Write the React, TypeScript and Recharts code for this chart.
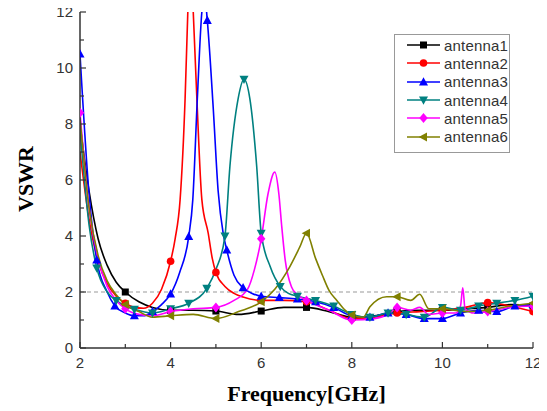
import React from 'react';
import { LineChart, Line, XAxis, YAxis, ReferenceLine, Legend, Label } from 'recharts';

// ---------- data (frequency in GHz, VSWR) ----------
const antenna1Freq = [2.0, 2.2, 2.4, 2.6, 2.8, 3.0, 3.3, 3.6, 4.0, 4.5, 5.0, 5.5, 6.0, 6.5, 7.0, 7.5, 8.0, 8.5, 9.0, 9.5, 10.0, 10.5, 11.0, 11.5, 12.0];
const antenna1Vswr = [8.0, 5.6, 3.9, 2.95, 2.35, 2.0, 1.65, 1.45, 1.35, 1.35, 1.32, 1.2, 1.32, 1.45, 1.45, 1.3, 1.1, 1.15, 1.3, 1.35, 1.35, 1.4, 1.45, 1.55, 1.5];
const antenna1Markers = [3, 4, 5, 6, 7, 8, 9, 10, 11, 12];

const antenna2Freq = [2.0, 2.2, 2.4, 2.6, 2.8, 3.0, 3.2, 3.4, 3.6, 3.8, 4.0, 4.1, 4.21, 4.32, 4.38, 4.44, 4.5, 4.58, 4.69, 4.83, 4.92, 5.0, 5.2, 5.4, 5.6, 6.0, 6.5, 7.0, 7.5, 8.0, 8.5, 9.0, 9.5, 10.0, 10.5, 11.0, 11.5, 12.0];
const antenna2Vswr = [7.0, 4.6, 3.1, 2.3, 1.85, 1.6, 1.45, 1.42, 1.6, 2.1, 3.1, 3.9, 5.3, 8.9, 12.0, 14.5, 12.0, 8.9, 5.3, 4.1, 3.2, 2.7, 2.2, 1.95, 1.82, 1.7, 1.7, 1.65, 1.35, 1.05, 1.1, 1.25, 1.3, 1.35, 1.45, 1.62, 1.5, 1.3];
const antenna2Markers = [3, 4, 5, 6, 7, 8, 9, 10, 11, 12];

const antenna3Freq = [2.0, 2.2, 2.37, 2.6, 2.77, 3.0, 3.2, 3.4, 3.6, 3.8, 4.0, 4.2, 4.4, 4.49, 4.59, 4.69, 4.75, 4.81, 4.94, 5.05, 5.16, 5.24, 5.4, 5.6, 5.8, 6.0, 6.4, 6.8, 7.2, 7.6, 8.0, 8.4, 8.8, 9.2, 9.6, 10.0, 10.4, 10.8, 11.2, 11.6, 12.0];
const antenna3Vswr = [10.5, 5.5, 3.14, 2.0, 1.5, 1.25, 1.15, 1.15, 1.3, 1.55, 1.93, 2.7, 3.98, 5.3, 8.9, 12.0, 12.6, 11.7, 8.6, 5.6, 4.1, 3.5, 2.6, 2.15, 1.95, 1.85, 1.8, 1.75, 1.65, 1.45, 1.15, 1.1, 1.25, 1.2, 1.05, 1.05, 1.25, 1.35, 1.3, 1.5, 1.55];
const antenna3Markers = [2.0, 2.37, 2.77, 3.2, 3.6, 4.0, 4.4, 4.81, 5.24, 5.6, 6.0, 6.4, 6.8, 7.2, 7.6, 8.0, 8.4, 8.8, 9.2, 9.6, 10.0, 10.4, 10.8, 11.2, 11.6, 12.0];

const antenna4Freq = [2.0, 2.2, 2.37, 2.6, 2.8, 3.0, 3.2, 3.6, 4.0, 4.4, 4.8, 5.0, 5.2, 5.31, 5.49, 5.62, 5.75, 5.9, 6.0, 6.2, 6.42, 6.6, 6.8, 7.2, 7.6, 8.0, 8.4, 8.8, 9.2, 9.6, 10.0, 10.4, 10.8, 11.2, 11.6, 12.0];
const antenna4Vswr = [7.8, 4.4, 2.86, 2.0, 1.7, 1.5, 1.38, 1.25, 1.4, 1.6, 2.13, 2.8, 4.0, 6.5, 8.9, 9.6, 8.9, 6.5, 4.1, 2.9, 2.2, 1.95, 1.85, 1.7, 1.5, 1.2, 1.1, 1.25, 1.2, 1.1, 1.45, 1.35, 1.5, 1.6, 1.7, 1.85];
const antenna4Markers = [2.37, 2.8, 3.2, 3.6, 4.0, 4.4, 4.8, 5.2, 5.62, 6.0, 6.42, 6.8, 7.2, 7.6, 8.0, 8.4, 8.8, 9.2, 9.6, 10.0, 10.4, 10.8, 11.2, 11.6, 12.0];

const antenna5Freq = [2.0, 2.2, 2.4, 2.6, 2.8, 3.0, 3.3, 3.6, 4.0, 4.5, 5.0, 5.4, 5.7, 5.85, 6.0, 6.15, 6.3, 6.39, 6.45, 6.53, 6.67, 6.8, 7.0, 7.5, 8.0, 8.5, 8.8, 9.0, 9.3, 9.5, 9.7, 10.0, 10.3, 10.4, 10.45, 10.5, 10.7, 11.0, 11.5, 12.0];
const antenna5Vswr = [8.4, 5.0, 3.2, 2.2, 1.7, 1.4, 1.2, 1.15, 1.3, 1.4, 1.45, 1.7, 2.1, 2.8, 3.9, 5.5, 6.28, 5.5, 4.4, 3.14, 2.18, 1.9, 1.7, 1.35, 1.0, 1.05, 1.2, 1.45, 1.35, 1.45, 1.2, 1.25, 1.25, 1.5, 2.15, 1.4, 1.25, 1.3, 1.45, 1.5];
const antenna5Markers = [2, 3, 4, 5, 6, 7, 8, 9, 10, 11, 12];

const antenna6Freq = [2.0, 2.2, 2.4, 2.6, 2.8, 3.0, 3.3, 3.6, 4.0, 4.5, 5.0, 5.5, 6.0, 6.3, 6.63, 6.85, 7.0, 7.2, 7.35, 7.5, 7.67, 7.85, 8.0, 8.25, 8.4, 8.77, 9.0, 9.3, 9.5, 9.7, 10.0, 10.5, 11.0, 11.5, 12.0];
const antenna6Vswr = [8.2, 5.0, 3.3, 2.4, 1.9, 1.55, 1.3, 1.1, 1.15, 1.2, 1.05, 1.3, 1.65, 2.1, 2.9, 3.6, 4.1, 3.2, 2.6, 2.05, 1.7, 1.35, 1.18, 1.1, 1.47, 1.83, 1.83, 1.7, 1.92, 1.4, 1.4, 1.3, 1.35, 1.5, 1.6];
const antenna6Markers = [3, 4, 5, 6, 7, 8, 9, 10, 11, 12];

const seriesNames = ['antenna1', 'antenna2', 'antenna3', 'antenna4', 'antenna5', 'antenna6'];
const xTicks = [2, 3, 4, 5, 6, 7, 8, 9, 10, 11, 12];
const yTicks = [0, 1, 2, 3, 4, 5, 6, 7, 8, 9, 10, 11, 12];

const toPoints = (f: number[], v: number[]) => f.map((x, i) => ({ f: x, v: v[i] }));

const SERIES = [
  { name: seriesNames[0], color: '#000000', shape: 'square', data: toPoints(antenna1Freq, antenna1Vswr), markers: antenna1Markers },
  { name: seriesNames[1], color: '#ff0000', shape: 'circle', data: toPoints(antenna2Freq, antenna2Vswr), markers: antenna2Markers },
  { name: seriesNames[2], color: '#0000ff', shape: 'up', data: toPoints(antenna3Freq, antenna3Vswr), markers: antenna3Markers },
  { name: seriesNames[3], color: '#008080', shape: 'down', data: toPoints(antenna4Freq, antenna4Vswr), markers: antenna4Markers },
  { name: seriesNames[4], color: '#ff00ff', shape: 'diamond', data: toPoints(antenna5Freq, antenna5Vswr), markers: antenna5Markers },
  { name: seriesNames[5], color: '#808000', shape: 'left', data: toPoints(antenna6Freq, antenna6Vswr), markers: antenna6Markers },
];

function Marker({ shape, cx, cy, color }: { shape: string; cx: number; cy: number; color: string }) {
  switch (shape) {
    case 'square':
      return <rect x={cx - 3.5} y={cy - 3.5} width={7} height={7} fill={color} />;
    case 'circle':
      return <circle cx={cx} cy={cy} r={3.8} fill={color} />;
    case 'up':
      return <polygon points={`${cx},${cy - 4.8} ${cx - 4.5},${cy + 3.5} ${cx + 4.5},${cy + 3.5}`} fill={color} />;
    case 'down':
      return <polygon points={`${cx},${cy + 4.8} ${cx - 4.5},${cy - 3.5} ${cx + 4.5},${cy - 3.5}`} fill={color} />;
    case 'diamond':
      return <polygon points={`${cx},${cy - 5} ${cx + 4.2},${cy} ${cx},${cy + 5} ${cx - 4.2},${cy}`} fill={color} />;
    default:
      return <polygon points={`${cx - 4.8},${cy} ${cx + 3.5},${cy - 4.5} ${cx + 3.5},${cy + 4.5}`} fill={color} />;
  }
}

const tickFont = { fontFamily: 'Liberation Sans, Arial, sans-serif', fontSize: 15, fill: '#333' };

const XTick = (props: any) => {
  const { x, y, payload } = props;
  const major = payload.value % 2 === 0;
  return (
    <g>
      <line x1={x} x2={x} y1={y} y2={y - (major ? 6 : 4)} stroke="#333" strokeWidth={1.2} />
      {major && (
        <text x={x} y={y + 20} textAnchor="middle" {...tickFont}>
          {payload.value}
        </text>
      )}
    </g>
  );
};

const YTick = (props: any) => {
  const { x, y, payload } = props;
  const major = payload.value % 2 === 0;
  return (
    <g>
      <line x1={x} x2={x + (major ? 6 : 4)} y1={y} y2={y} stroke="#333" strokeWidth={1.2} />
      {major && (
        <text x={x - 7} y={y + 5} textAnchor="end" {...tickFont}>
          {payload.value}
        </text>
      )}
    </g>
  );
};

const LegendContent = () => (
  <div
    style={{
      border: '1px solid #999',
      background: '#fff',
      width: 116,
      height: 119,
      boxSizing: 'border-box',
      paddingTop: 1,
    }}
  >
    {SERIES.map((s) => (
      <div key={s.name} style={{ display: 'flex', alignItems: 'center', height: 18.3 }}>
        <svg width={48} height={14} style={{ display: 'block' }}>
          <line x1={12} x2={45} y1={7} y2={7} stroke={s.color} strokeWidth={1.5} />
          <Marker shape={s.shape} cx={28.5} cy={7} color={s.color} />
        </svg>
        <span
          style={{
            fontFamily: 'Liberation Sans, Arial, sans-serif',
            fontSize: 15,
            letterSpacing: 0.2,
            color: '#333',
            marginLeft: 1,
            lineHeight: '15px',
            whiteSpace: 'nowrap',
          }}
        >
          {s.name}
        </span>
      </div>
    ))}
  </div>
);

const axisTitle = { fontFamily: 'Liberation Serif, Times New Roman, serif', fontWeight: 'bold' as const, fontSize: 22, fill: '#000' };

export default function App() {
  return (
    <div style={{ margin: '-8px 0 0 -8px', width: 547, height: 411 }}>
      <LineChart width={547} height={411} margin={{ top: 12, right: 14, bottom: 0, left: 20 }}>
        <XAxis
          xAxisId="top"
          orientation="top"
          type="number"
          domain={[2, 12]}
          height={0}
          tick={false}
          tickLine={false}
          axisLine={{ stroke: '#777', strokeWidth: 1.5 }}
        />
        <YAxis
          yAxisId="right"
          orientation="right"
          type="number"
          domain={[0, 12]}
          width={0}
          tick={false}
          tickLine={false}
          axisLine={{ stroke: '#777', strokeWidth: 1.5 }}
        />
        <XAxis
          dataKey="f"
          type="number"
          domain={[2, 12]}
          ticks={xTicks}
          interval={0}
          allowDataOverflow
          height={63}
          tickSize={0}
          tickMargin={0}
          tickLine={false}
          tick={(p: any) => <XTick {...p} />}
          axisLine={{ stroke: '#333', strokeWidth: 1.5 }}
        >
          <Label
            content={(p: any) => {
              const vb = p.viewBox || {};
              return (
                <text x={vb.x + vb.width / 2} y={vb.y + 53} textAnchor="middle" {...axisTitle}>
                  Frequency[GHz]
                </text>
              );
            }}
          />
        </XAxis>
        <YAxis
          dataKey="v"
          type="number"
          domain={[0, 12]}
          ticks={yTicks}
          interval={0}
          allowDataOverflow
          width={60}
          tickSize={0}
          tickMargin={0}
          tickLine={false}
          tick={(p: any) => <YTick {...p} />}
          axisLine={{ stroke: '#333', strokeWidth: 1.5 }}
        >
          <Label
            content={(p: any) => {
              const vb = p.viewBox || {};
              const cx = vb.x + 13;
              const cy = vb.y + vb.height / 2 - 1;
              return (
                <text x={cx} y={cy} textAnchor="middle" transform={`rotate(-90, ${cx}, ${cy})`} {...axisTitle}>
                  VSWR
                </text>
              );
            }}
          />
        </YAxis>
        <ReferenceLine y={2} stroke="#999" strokeDasharray="4 3" strokeWidth={1.2} />
        {SERIES.map((s) => (
          <Line
            key={s.name}
            name={s.name}
            data={s.data}
            dataKey="v"
            type="monotone"
            stroke={s.color}
            strokeWidth={1.6}
            isAnimationActive={false}
            activeDot={false}
            dot={(p: any) => {
              const { cx, cy, payload, index } = p;
              if (cx == null || cy == null || !s.markers.includes(payload.f)) {
                return <g key={`${s.name}-e-${index}`} />;
              }
              return (
                <g key={`${s.name}-d-${index}`}>
                  <Marker shape={s.shape} cx={cx} cy={cy} color={s.color} />
                </g>
              );
            }}
          />
        ))}
        <Legend
          layout="vertical"
          align="center"
          verticalAlign="middle"
          content={() => <LegendContent />}
          wrapperStyle={{ left: 394, top: 34, width: 116, height: 119 }}
        />
      </LineChart>
    </div>
  );
}
